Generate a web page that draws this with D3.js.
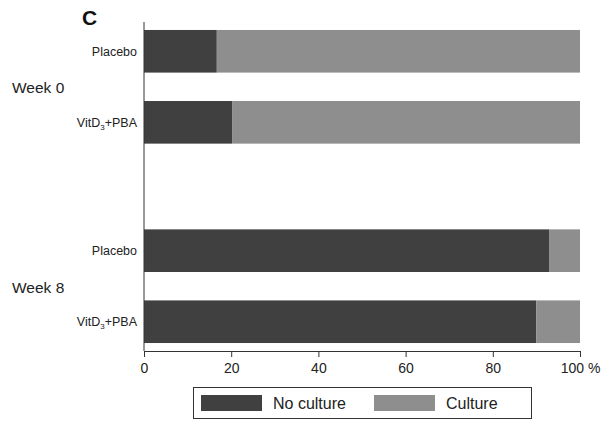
<!DOCTYPE html>
<html>
<head>
<meta charset="utf-8">
<script src="https://cdn.jsdelivr.net/npm/d3@7"></script>
<style>
  html, body { margin: 0; padding: 0; background: #fff; }
  svg { display: block; font-family: "Liberation Sans", Arial, sans-serif; }
</style>
</head>
<body>
<svg id="chart" width="606" height="429"></svg>
<script>
// ---- data ----
const weeks = ["Week 0", "Week 8"];
const groups = ["Placebo", "VitD3+PBA"];
const noCulture = [16.7, 20.2, 92.9, 90.0];   // % per bar, order: W0 Placebo, W0 VitD3, W8 Placebo, W8 VitD3
const culture   = [83.3, 79.8, 7.1, 10.0];
const xTicks = [0, 20, 40, 60, 80, 100];
const seriesNames = ["No culture", "Culture"];
const seriesColors = ["#404040", "#8e8e8e"];

// ---- layout ----
const svg = d3.select("#chart");
const x = d3.scaleLinear().domain([0, 100]).range([144, 580]);
const yOuter = d3.scaleBand().domain(weeks).range([22, 351]).paddingInner(0.43).paddingOuter(0.04);
const yInner = d3.scaleBand().domain(groups).range([0, yOuter.bandwidth()]).paddingInner(0.4).paddingOuter(0);

const rows = [];
weeks.forEach((w, wi) => groups.forEach((g, gi) => {
  const i = wi * groups.length + gi;
  rows.push({ week: w, group: g, vals: [noCulture[i], culture[i]] });
}));

// bars
rows.forEach(r => {
  const y0 = yOuter(r.week) + yInner(r.group);
  let acc = 0;
  r.vals.forEach((v, si) => {
    svg.append("rect")
      .attr("x", x(acc))
      .attr("y", y0)
      .attr("width", x(acc + v) - x(acc))
      .attr("height", yInner.bandwidth())
      .attr("fill", seriesColors[si]);
    acc += v;
  });
});

// y axis line
svg.append("line")
  .attr("x1", x(0)).attr("x2", x(0))
  .attr("y1", 22).attr("y2", 351)
  .attr("stroke", "#333").attr("stroke-width", 1);

// x axis
const xAxis = d3.axisBottom(x).tickValues(xTicks).tickSize(6).tickSizeOuter(0)
  .tickFormat(d => d === 100 ? "100 %" : d);
const gx = svg.append("g").attr("transform", "translate(0,351)").call(xAxis);
gx.select(".domain").attr("stroke", "#333");
gx.selectAll(".tick line").attr("stroke", "#333");
gx.selectAll(".tick text").attr("fill", "#222").attr("font-size", 14)
  .attr("font-family", "Liberation Sans, Arial, sans-serif").attr("dy", "0.95em");

// category labels
rows.forEach(r => {
  const cy = yOuter(r.week) + yInner(r.group) + yInner.bandwidth() / 2;
  const t = svg.append("text")
    .attr("x", 137).attr("y", cy).attr("dy", "0.35em")
    .attr("text-anchor", "end").attr("font-size", 12.5).attr("fill", "#222");
  if (r.group === "VitD3+PBA") {
    t.append("tspan").text("VitD");
    t.append("tspan").text("3").attr("font-size", 8).attr("dy", 3);
    t.append("tspan").text("+PBA").attr("dy", -3);
  } else {
    t.text(r.group);
  }
});

// week labels
weeks.forEach(w => {
  svg.append("text")
    .attr("x", 12).attr("y", yOuter(w) + yOuter.bandwidth() / 2 + 1).attr("dy", "0.35em")
    .attr("font-size", 15.5).attr("fill", "#222").text(w);
});

// panel letter
svg.append("text").attr("x", 82).attr("y", 25)
  .attr("font-size", 21).attr("font-weight", "bold").attr("fill", "#111").text("C");

// legend
const lg = svg.append("g");
lg.append("rect").attr("x", 193.5).attr("y", 387.5).attr("width", 338).attr("height", 31)
  .attr("fill", "none").attr("stroke", "#333").attr("stroke-width", 1);
const legendX = [201, 374];
seriesNames.forEach((s, i) => {
  lg.append("rect").attr("x", legendX[i]).attr("y", 395).attr("width", 61).attr("height", 16)
    .attr("fill", seriesColors[i]);
  lg.append("text").attr("x", legendX[i] + 72).attr("y", 409)
    .attr("font-size", 16).attr("fill", "#222").text(s);
});
</script>
</body>
</html>
